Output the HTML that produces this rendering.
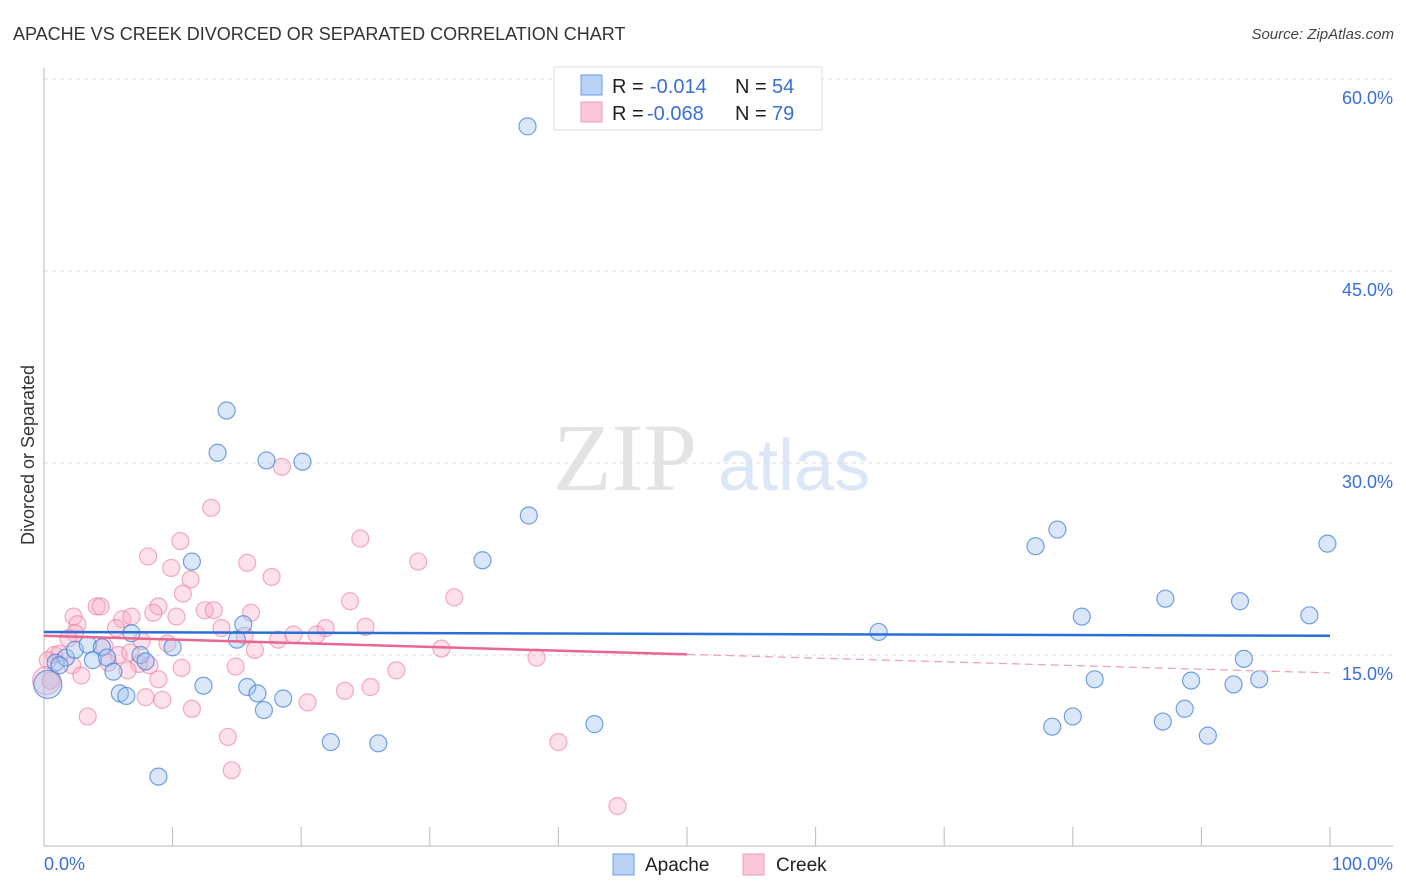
<!DOCTYPE html>
<html><head><meta charset="utf-8">
<style>
body{margin:0;background:#fff;font-family:"Liberation Sans",sans-serif;}
svg{display:block}
</style></head>
<body>
<svg id="chart" width="1406" height="892" xmlns="http://www.w3.org/2000/svg">
<text x="13" y="40" font-size="18" fill="#333">APACHE VS CREEK DIVORCED OR SEPARATED CORRELATION CHART</text>
<text x="1394" y="39" font-size="15" fill="#444" font-style="italic" text-anchor="end">Source: ZipAtlas.com</text>
<g>
<text x="553" y="490" font-family="Liberation Serif,serif" font-size="96" fill="#e3e3e3">ZIP</text>
<text x="718" y="490" font-size="72" fill="#dbe6f6">atlas</text>
</g>
<g id="grid"></g>
<g id="axes"></g>
<g id="pts"></g>
<g id="trend"></g>
<g>
<rect x="554" y="67" width="268" height="63" fill="#fff" stroke="#ddd"/>
<rect x="581" y="75" width="21" height="20" fill="#b9d3f6" stroke="#6a9ee6"/>
<rect x="581" y="102" width="21" height="20" fill="#fcc8d7" stroke="#ee9cb4"/>
<text x="612" y="93" font-size="20" fill="#222">R = </text><text x="650" y="93" font-size="20" fill="#3a6fd8">-0.014</text>
<text x="735" y="93" font-size="20" fill="#222">N = </text><text x="772" y="93" font-size="20" fill="#3a6fd8">54</text>
<text x="612" y="120" font-size="20" fill="#222">R = </text><text x="647" y="120" font-size="20" fill="#3a6fd8">-0.068</text>
<text x="735" y="120" font-size="20" fill="#222">N = </text><text x="772" y="120" font-size="20" fill="#3a6fd8">79</text>
</g>
<g>
<rect x="613" y="854" width="21" height="21" fill="#b9d3f6" stroke="#6a9ee6"/>
<text x="645" y="871" font-size="19" fill="#222">Apache</text>
<rect x="743" y="854" width="21" height="21" fill="#fcc8d7" stroke="#ee9cb4"/>
<text x="776" y="871" font-size="19" fill="#222">Creek</text>
</g>
<text transform="translate(34,455) rotate(-90)" font-size="18" fill="#333" text-anchor="middle">Divorced or Separated</text>
</svg>
<script>
const yTicks=[15,30,45,60];
const yTickLabels=["15.0%","30.0%","45.0%","60.0%"];
const xTicks=[0,10,20,30,40,50,60,70,80,90,100];
const apacheX=[37.6,14.2,13.5,17.3,20.1,37.7,11.5,34.1,77.1,78.8,99.8,87.2,93.0,98.4,80.7,64.9,15.5,6.8,15.0,10.0,93.3,81.7,89.2,92.5,94.5,12.4,15.8,16.6,18.6,17.1,5.9,6.4,80.0,78.4,87.0,88.7,90.5,42.8,22.3,26.0,8.9,0.9,1.7,2.4,3.4,4.5,3.8,4.9,5.4,7.5,7.9,1.2,0.3];
const apacheY=[56.3,34.1,30.8,30.2,30.1,25.9,22.3,22.4,23.5,24.8,23.7,19.4,19.2,18.1,18.0,16.8,17.4,16.7,16.2,15.6,14.7,13.1,13.0,12.7,13.1,12.6,12.5,12.0,11.6,10.7,12.0,11.8,10.2,9.4,9.8,10.8,8.7,9.6,8.2,8.1,5.5,14.4,14.8,15.4,15.8,15.6,14.6,14.8,13.7,15.0,14.5,14.2,12.7];
const creekX=[18.5,13.0,24.6,10.6,8.1,15.8,29.1,9.9,11.4,17.7,10.8,31.9,23.8,4.1,4.4,8.9,12.5,13.2,8.5,10.3,16.1,2.3,6.1,6.8,2.6,5.6,13.8,25.0,21.9,2.4,21.2,19.4,15.6,18.2,1.9,7.6,9.6,4.7,30.9,16.4,5.8,6.7,38.3,0.8,1.2,0.3,2.2,7.4,8.2,5.0,6.5,10.7,14.9,27.4,2.9,8.9,0.5,25.4,23.4,7.9,9.2,11.5,20.5,3.4,14.3,40.0,14.6,44.6,0.2];
const creekY=[29.7,26.5,24.1,23.9,22.7,22.2,22.3,21.8,20.9,21.1,19.8,19.5,19.2,18.8,18.8,18.8,18.5,18.5,18.3,18.0,18.3,18.0,17.8,18.0,17.4,17.1,17.1,17.2,17.1,16.7,16.6,16.6,16.5,16.2,16.3,16.1,15.9,15.7,15.5,15.4,15.0,15.2,14.8,15.0,15.1,14.6,14.2,14.3,14.2,14.4,13.8,14.0,14.1,13.8,13.4,13.1,13.0,12.5,12.2,11.7,11.5,10.8,11.3,10.2,8.6,8.2,6.0,3.2,13.0];
const apacheTrend=[16.8,16.5];
const creekTrend=[16.5,13.6];
const creekSolidEnd=50;
const NS="http://www.w3.org/2000/svg";
const X=v=>44+v*12.86, Y=v=>847-v*12.8;
function mk(p,t,a){const e=document.createElementNS(NS,t);for(const k in a)e.setAttribute(k,a[k]);p.appendChild(e);return e;}
const grid=document.getElementById('grid'),axes=document.getElementById('axes'),pts=document.getElementById('pts'),tr=document.getElementById('trend');
yTicks.forEach((v,i)=>{
 const l=mk(grid,'line',{x1:44,x2:1393,y1:Y(v),y2:Y(v),stroke:'#ddd','stroke-dasharray':'4,4'});
 
 
 const t=mk(grid,'text',{x:1393,y:Y(v)+25,'font-size':18,fill:'#3a6fd8','text-anchor':'end'});
 t.textContent=yTickLabels[i];
 
 
});
mk(axes,'line',{x1:44,x2:44,y1:68,y2:846,stroke:'#bbb'});
mk(axes,'line',{x1:44,x2:1393,y1:846,y2:846,stroke:'#bbb'});
xTicks.forEach(v=>{const l=mk(axes,'line',{x1:X(v),x2:X(v),y1:827,y2:846,stroke:'#bbb'});
 
 });
const x0=mk(axes,'text',{x:44,y:870,'font-size':18,fill:'#3a6fd8'});x0.textContent='0.0%';


const x1=mk(axes,'text',{x:1393,y:870,'font-size':18,fill:'#3a6fd8','text-anchor':'end'});x1.textContent='100.0%';


creekX.forEach((v,i)=>{const c=mk(pts,'circle',{cx:X(v),cy:Y(creekY[i]),r:i==creekX.length-1?14:8.5,fill:'rgba(248,170,195,0.35)',stroke:'rgba(235,120,155,0.6)','stroke-width':1.2});
 
 });
apacheX.forEach((v,i)=>{const c=mk(pts,'circle',{cx:X(v),cy:Y(apacheY[i]),r:i==apacheX.length-1?14:8.5,fill:'rgba(160,195,240,0.4)',stroke:'rgba(70,130,220,0.75)','stroke-width':1.2});
 
 });
const ab=mk(tr,'line',{x1:X(0),x2:X(100),y1:Y(apacheTrend[0]),y2:Y(apacheTrend[1]),stroke:'#2a6fd6','stroke-width':2.5});


const cm=creekTrend[0]+(creekTrend[1]-creekTrend[0])*creekSolidEnd/100;
const cs=mk(tr,'line',{x1:X(0),x2:X(creekSolidEnd),y1:Y(creekTrend[0]),y2:Y(cm),stroke:'#e8678f','stroke-width':2.5});


const cd=mk(tr,'line',{x1:X(creekSolidEnd),x2:X(100),y1:Y(cm),y2:Y(creekTrend[1]),stroke:'#eea0b8','stroke-width':1.2,'stroke-dasharray':'8,5'});


</script>
</body></html>
